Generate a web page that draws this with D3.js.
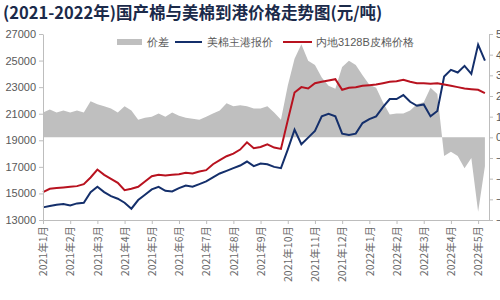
<!DOCTYPE html>
<meta charset="utf-8">
<script src="https://d3js.org/d3.v7.min.js"></script>
<style>
body { margin: 0; background: #fff; }
text { font-family: "Liberation Sans", Arial, sans-serif; }
.cjk { font-family: "Noto Sans CJK SC", sans-serif; }
</style>
<div id="chart"></div>
<script>
// month labels on the x axis
var monthLabels = ["2021年1月","2021年2月","2021年3月","2021年4月","2021年5月","2021年6月",
  "2021年7月","2021年8月","2021年9月","2021年10月","2021年11月","2021年12月",
  "2022年1月","2022年2月","2022年3月","2022年4月","2022年5月"];

// weekly readings (one value every quarter month starting 2021-1)
var usCotton = [13950,14050,14150,14200,14100,14250,14300,15100,15500,15100,14800,14600,
  14300,13850,14500,14900,15300,15500,15200,15150,15400,15600,15500,15700,
  15900,16200,16500,16700,16900,17100,17400,17050,17250,17200,17000,16900,
  18300,19800,18700,19200,19700,20800,21000,20800,19500,19400,19500,20300,
  20600,20800,21500,22100,22100,22400,21900,21600,21700,20800,21200,23800,
  24300,24100,24600,24000,26200,25000];

var inland3128 = [15100,15350,15400,15450,15500,15550,15700,16200,16800,16400,16100,15800,
  15250,15350,15500,15900,16300,16400,16350,16400,16450,16550,16500,16650,
  16750,17200,17500,17800,18000,18300,18850,18400,18500,18700,18450,18350,
  20500,22600,23000,22900,23300,23400,23500,23600,22800,22950,23000,23100,
  23150,23200,23300,23400,23450,23550,23400,23300,23300,23250,23300,23200,
  23100,23000,22900,22850,22800,22550];

var spread = [1200,1350,1200,1300,1200,1300,1200,1750,1600,1500,1400,1200,
  1500,1300,850,950,1000,1150,1000,1200,1050,950,900,850,
  1000,1150,1300,1650,1500,1550,1500,1400,1400,1500,1200,850,
  2500,3800,4500,3700,3500,2900,2500,2350,3400,3700,3500,3000,
  2550,2400,1700,1100,1150,1150,1300,1600,1700,2400,2100,-900,
  -700,-900,-1500,-1000,-3600,-1400];

var leftTicks = [13000,15000,17000,19000,21000,23000,25000,27000];
var rightTicks = [-4000,-3000,-2000,-1000,0,1000,2000,3000,4000,5000];

var W = 500, H = 300;
var plotL = 43, plotR = 489, plotT = 34, plotB = 220;

var svg = d3.select("#chart").append("svg")
  .attr("width", W).attr("height", H);

var x = d3.scaleLinear().domain([0, 16.4]).range([plotL, plotR]);
var yL = d3.scaleLinear().domain([13000, 27000]).range([plotB, plotT]);
var yR = d3.scaleLinear().domain([-4000, 5000]).range([plotB, plotT]);

var step = 0.25;
function xi(d, i) { return x(i * step); }

// spread area
svg.append("path")
  .datum(spread)
  .attr("fill", "#bfbfbf")
  .attr("d", d3.area().x(xi).y0(yR(0)).y1(function(d) { return yR(d); }));

// lines
svg.append("path")
  .datum(usCotton)
  .attr("fill", "none").attr("stroke", "#142f6b").attr("stroke-width", 2)
  .attr("d", d3.line().x(xi).y(function(d) { return yL(d); }));

svg.append("path")
  .datum(inland3128)
  .attr("fill", "none").attr("stroke", "#b8121f").attr("stroke-width", 2)
  .attr("d", d3.line().x(xi).y(function(d) { return yL(d); }));

// axes
var axisColor = "#bdbdbd", labelColor = "#595959";

var gl = svg.append("g").attr("transform", "translate(" + plotL + ",0)")
  .call(d3.axisLeft(yL).tickValues(leftTicks).tickSize(4).tickSizeOuter(0).tickFormat(d3.format("d")));
var gr = svg.append("g").attr("transform", "translate(" + plotR + ",0)")
  .call(d3.axisRight(yR).tickValues(rightTicks).tickSize(4).tickSizeOuter(0).tickFormat(d3.format("d")));
var gb = svg.append("g").attr("transform", "translate(0," + plotB + ")")
  .call(d3.axisBottom(x).tickValues(d3.range(monthLabels.length)).tickSize(4).tickSizeOuter(0)
    .tickFormat(function(d) { return monthLabels[d]; }));

[gl, gr, gb].forEach(function(g) {
  g.select(".domain").attr("stroke", axisColor);
  g.selectAll(".tick line").attr("stroke", axisColor);
  g.selectAll("text").attr("fill", labelColor).style("font-size", "11px");
});
gb.selectAll("text")
  .attr("class", "cjk")
  .style("font-size", "10.5px")
  .attr("fill", "#6a6a6a")
  .attr("transform", "rotate(-90)")
  .attr("text-anchor", "end")
  .attr("x", -6).attr("y", 0).attr("dy", "0.35em");

// title
svg.append("text")
  .attr("class", "cjk")
  .attr("x", 3).attr("y", 19)
  .attr("fill", "#1b2a4a")
  .style("font-size", "16.5px").style("font-weight", "bold")
  .text("(2021-2022年)国产棉与美棉到港价格走势图(元/吨)");

// legend
var lg = svg.append("g").attr("class", "cjk").style("font-size", "11px");
lg.append("rect").attr("x", 117).attr("y", 39).attr("width", 25).attr("height", 6).attr("fill", "#bfbfbf");
lg.append("text").attr("x", 147).attr("y", 46).attr("fill", "#595959").text("价差");
lg.append("line").attr("x1", 175).attr("x2", 202).attr("y1", 42).attr("y2", 42)
  .attr("stroke", "#142f6b").attr("stroke-width", 2);
lg.append("text").attr("x", 207).attr("y", 46).attr("fill", "#595959").text("美棉主港报价");
lg.append("line").attr("x1", 283).attr("x2", 312).attr("y1", 42).attr("y2", 42)
  .attr("stroke", "#b8121f").attr("stroke-width", 2);
lg.append("text").attr("x", 316).attr("y", 46).attr("fill", "#595959").text("内地3128B皮棉价格");
</script>
